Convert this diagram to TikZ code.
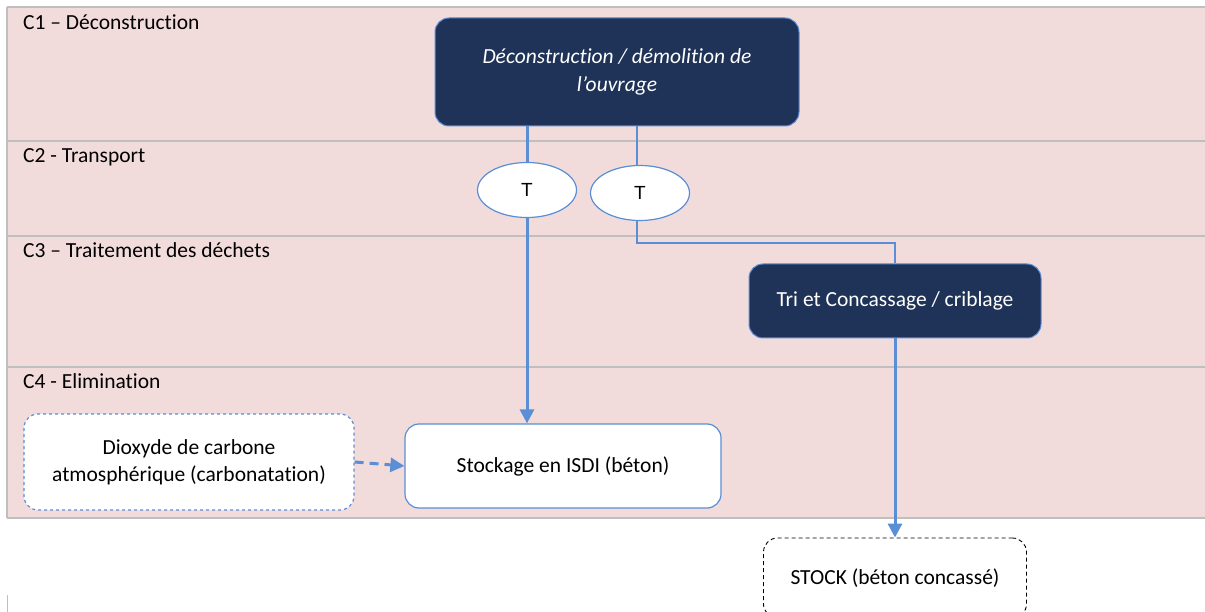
\documentclass[tikz,border=0pt]{standalone}
\usepackage{fontspec}
\setmainfont{Carlito}[Ligatures={NoCommon}]
\newfontfamily\arialf{Liberation Sans}
\usetikzlibrary{arrows.meta,shapes.geometric}
\definecolor{bandpink}{HTML}{F2DCDB}
\definecolor{bandline}{HTML}{BFBFBF}
\definecolor{navy}{HTML}{1F3257}
\definecolor{lblue}{HTML}{5A8ED6}
\tikzset{
  lbl/.style={anchor=base west, font=\fontsize{21.5}{24}\selectfont, inner sep=0pt},
  darkbox/.style={draw=lblue, line width=1pt, fill=navy, rounded corners=14pt, text=white, align=center, font=\fontsize{21.5}{28}\selectfont, inner sep=0pt},
  whitebox/.style={draw=lblue, line width=1.2pt, fill=white, rounded corners=14pt, align=center, font=\fontsize{21.5}{27}\selectfont, inner sep=0pt},
  dashbox/.style={draw=lblue, line width=1.2pt, dashed, fill=white, rounded corners=14pt, align=center, font=\fontsize{21.5}{27}\selectfont, inner sep=0pt},
  stockbox/.style={draw=black, line width=0.9pt, dash pattern=on 4pt off 3pt, fill=white, rounded corners=14pt, align=center, font=\fontsize{21.5}{27}\selectfont, inner sep=0pt},
  tnode/.style={ellipse, draw=lblue, line width=1.2pt, fill=white, minimum width=99pt, minimum height=55pt, inner sep=0pt, font=\arialf\fontsize{19}{22}\selectfont},
  thin/.style={draw=lblue, line width=1.4pt},
  thickflow/.style={draw=lblue, line width=3pt},
  arr/.style={thickflow, -{Triangle[length=14pt,width=14pt]}},
  darr/.style={draw=lblue, line width=3pt, dash pattern=on 9pt off 6pt, -{Triangle[length=14pt,width=14pt]}},
}
\begin{document}
\begin{tikzpicture}[x=1pt,y=-1pt]
\useasboundingbox (0,0) rectangle (1205,612);
\clip (0,0) rectangle (1205,612);
% band
\fill[bandpink] (7,7) rectangle (1205,518);
\draw[bandline, line width=1.5pt] (7,7) -- (1205,7);
\draw[bandline, line width=1.5pt] (7,141) -- (1205,141);
\draw[bandline, line width=1.5pt] (7,236) -- (1205,236);
\draw[bandline, line width=1.5pt] (7,367) -- (1205,367);
\draw[bandline, line width=1.5pt] (7,518) -- (1205,518);
\draw[bandline, line width=1.5pt] (7,7) -- (7,518);
\draw[bandline, line width=0.8pt] (7,595) -- (7,612);
% lane labels
\node[lbl] (l1) at (23,29.5) {C1 – Déconstruction};
\node[lbl] (l2) at (23,162.5) {C2 - Transport};
\node[lbl] (l3) at (23,257.5) {C3 – Traitement des déchets};
\node[lbl] (l4) at (23,388.5) {C4 - Elimination};
% nodes
\node[darkbox, minimum width=364pt, minimum height=108pt] (dec) at (617,72) {\itshape Déconstruction / démolition de\\\itshape l’ouvrage};
\node[tnode] (t1) at (527,190) {T};
\node[tnode] (t2) at (640,193) {T};
\node[darkbox, minimum width=292pt, minimum height=74pt] (tri) at (895,301) {Tri et Concassage / criblage};
\node[whitebox, minimum width=316pt, minimum height=84pt] (isdi) at (563,466) {Stockage en ISDI (béton)};
\node[dashbox, minimum width=330pt, minimum height=96pt] (co2) at (189,462) {Dioxyde de carbone\\atmosphérique (carbonatation)};
\node[stockbox, minimum width=263pt, minimum height=80pt] (stock) at (895,578) {STOCK (béton concassé)};
% connectors
\draw[thickflow] (dec.south -| t1.north) -- (t1.north);
\draw[thin] (637,126) -- (637,166);
\draw[arr] (t1.south) -- (isdi.north -| t1.south);
\coordinate (c1) at (637,243);
\draw[thin] (637,221) -- (c1) -| (tri.north);
\draw[arr] (tri.south) -- (stock.north);
\draw[darr] (co2.east) -- (isdi.west);
\end{tikzpicture}
\end{document}
